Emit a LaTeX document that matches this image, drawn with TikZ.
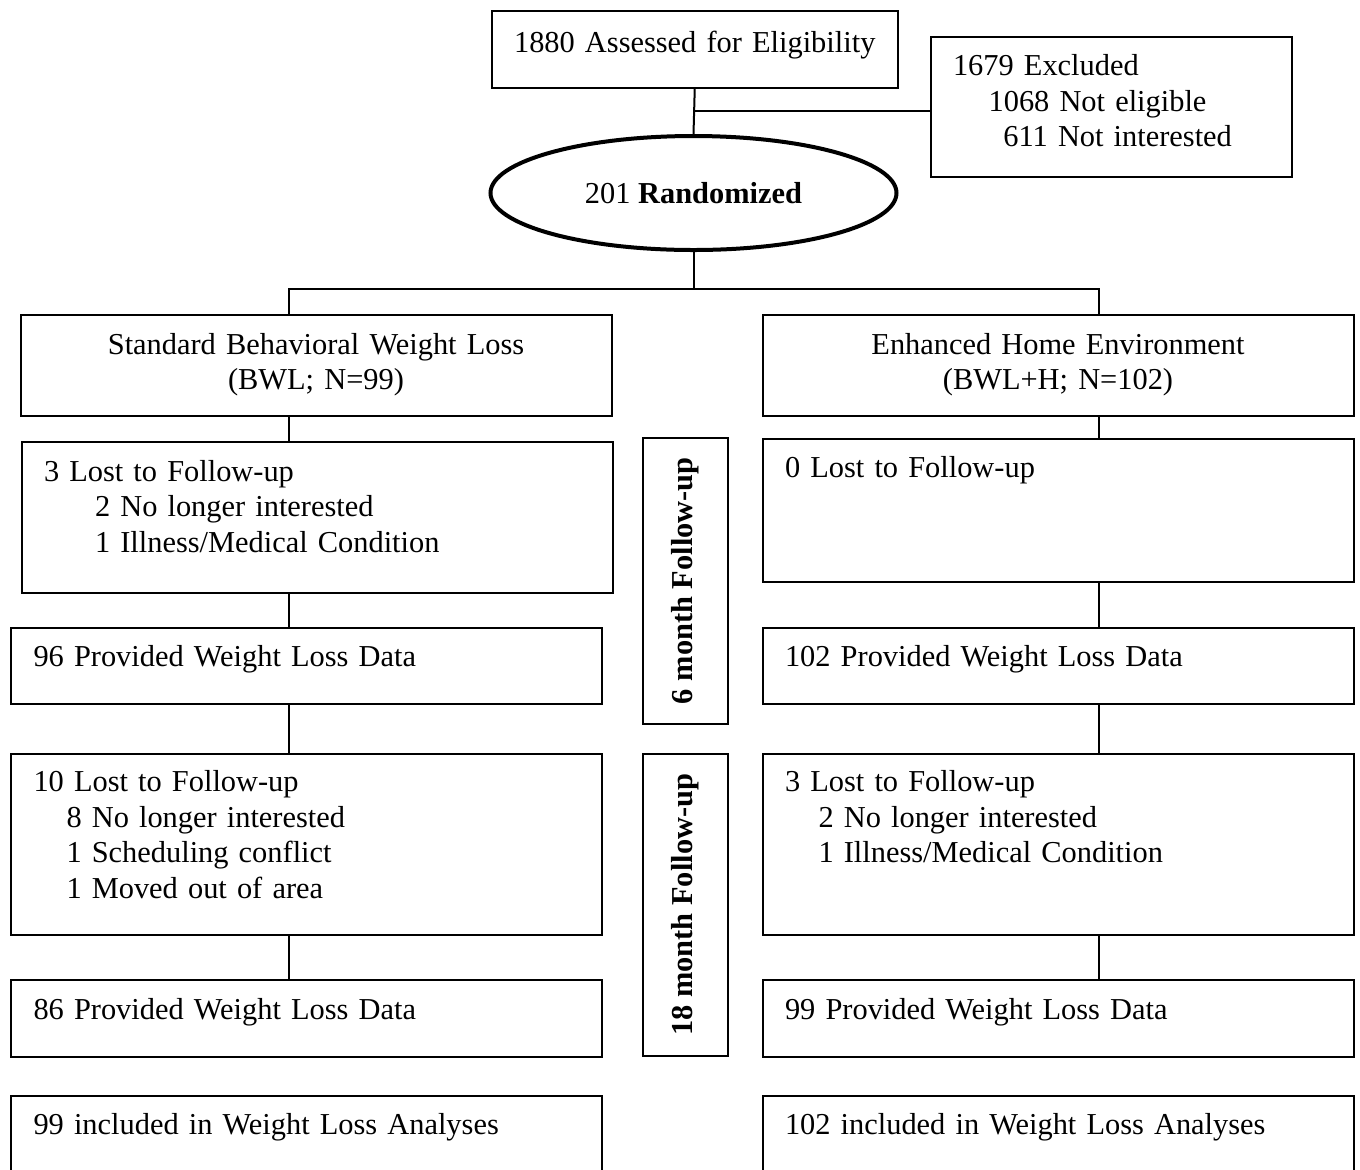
\documentclass[tikz,border=0pt]{standalone}
\usepackage{fontspec}
\setmainfont{Liberation Serif}
\usepackage{tikz}
\usetikzlibrary{shapes.geometric}

\begin{document}
\begin{tikzpicture}[
  x=0.5pt, y=-0.5pt,
  font=\fontsize{15.2}{17.8}\selectfont,
  box/.style={draw, line width=1pt, anchor=north west, inner xsep=11.25pt,
    inner ysep=0pt, align=left, text width=273pt, text height=19.5pt},
  cbox/.style={box, align=center},
  side/.style={draw, line width=1pt, rotate=90, inner sep=0pt,
    minimum height=42.25pt, font=\fontsize{15.2}{17.8}\selectfont\bfseries},
  link/.style={line width=1pt}
]
\useasboundingbox (0,0) rectangle (1360,1169);
\clip (0,0) rectangle (1360,1169);
\node[cbox, inner xsep=3.875pt, text width=195pt, text height=21pt, text depth=17.5pt] (ae) at (491,9.5) {1880 Assessed for Eligibility};
\node[box, text width=158pt, text depth=50.5pt] (ex) at (929.5,35.5) {1679 Excluded\\\hspace*{17.8pt}1068 Not eligible\\\hspace*{25.2pt}611 Not interested};
\node[draw, ellipse, line width=2pt, inner sep=0pt, minimum width=203pt, minimum height=57pt] (rz) at (693.5,193) {201 \textbf{Randomized}};
\node[cbox, text height=19.75pt, text depth=30.75pt] (bwl) at (19.5,313.5) {Standard Behavioral Weight Loss\\(BWL; N=99)};
\node[cbox, text height=19.75pt, text depth=30.75pt] (bwlh) at (761.5,313.5) {Enhanced Home Environment\\(BWL+H; N=102)};
\node[box, text height=19.75pt, text depth=55.75pt] (l1) at (20.5,440.5) {3 Lost to Follow-up\\\hspace*{25.5pt}2 No longer interested\\\hspace*{25.5pt}1 Illness/Medical Condition};
\node[box, text depth=52pt] (r1) at (761.5,437.5) {0 Lost to Follow-up};
\node[box, text depth=18.75pt] (l2) at (10,626.5) {96 Provided Weight Loss Data};
\node[box, text depth=18.75pt] (r2) at (761.5,626.5) {102 Provided Weight Loss Data};
\node[box, text height=19pt, text depth=71.5pt] (l3) at (10,752.5) {10 Lost to Follow-up\\\hspace*{16.5pt}8 No longer interested\\\hspace*{16.5pt}1 Scheduling conflict\\\hspace*{16.5pt}1 Moved out of area};
\node[box, text height=19pt, text depth=71.5pt] (r3) at (761.5,752.5) {3 Lost to Follow-up\\\hspace*{16.75pt}2 No longer interested\\\hspace*{16.75pt}1 Illness/Medical Condition};
\node[box, text depth=18.75pt] (l4) at (10,979) {86 Provided Weight Loss Data};
\node[box, text depth=18.75pt] (r4) at (761.5,979) {99 Provided Weight Loss Data};
\node[box, text height=19.25pt, text depth=25pt] (l5) at (10,1095) {99 included in Weight Loss Analyses};
\node[box, text height=19.25pt, text depth=25pt] (r5) at (761.5,1095) {102 included in Weight Loss Analyses};
\node[side, minimum width=143.25pt] (m6) at (685.25,580.75) {6 month Follow-up};
\node[side, minimum width=150.75pt] (m18) at (685.25,904.75) {18 month Follow-up};
\coordinate (ej) at (693.5,111);
\coordinate (sl) at (289,288.5);
\coordinate (sr) at (1099,288.5);
\draw[link] (ae.south) -- (rz.north);
\draw[link] (ej) -- (ej -| ex.west);
\draw[link] (rz) -- (rz |- sl);
\draw[link] (bwl.north -| sl) -- (sl) -- (sr) -- (bwlh.north -| sr);
\draw[link] (bwl.south -| sl) -- (l1.north -| sl);
\draw[link] (l1.south -| sl) -- (l2.north -| sl);
\draw[link] (l2.south -| sl) -- (l3.north -| sl);
\draw[link] (l3.south -| sl) -- (l4.north -| sl);
\draw[link] (bwlh.south -| sr) -- (r1.north -| sr);
\draw[link] (r1.south -| sr) -- (r2.north -| sr);
\draw[link] (r2.south -| sr) -- (r3.north -| sr);
\draw[link] (r3.south -| sr) -- (r4.north -| sr);
\end{tikzpicture}
\end{document}
